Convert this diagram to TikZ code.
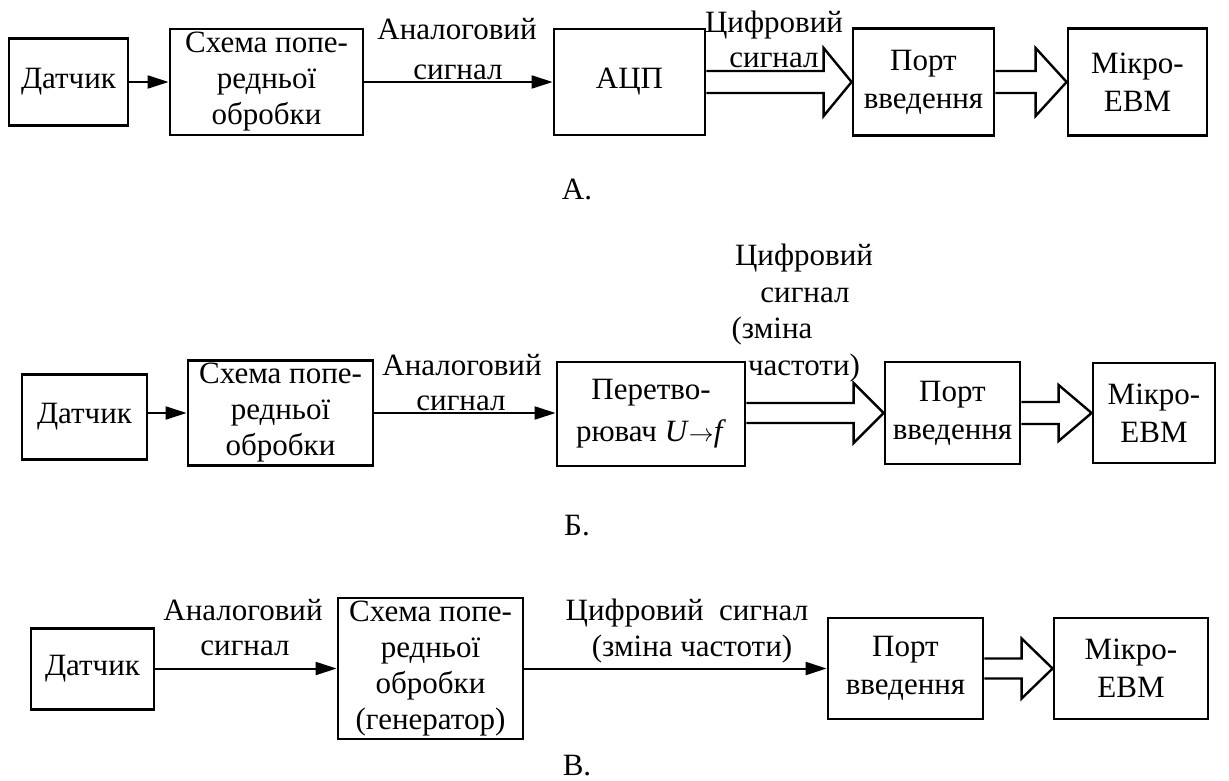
\documentclass[tikz,border=0pt]{standalone}
\usepackage{fontspec}
\setmainfont{Liberation Serif}
\usetikzlibrary{arrows.meta,calc}

% hollow (wide) arrow from the east side of #1 to the west side of #2
% #3 = half width of the shaft, #4 = half width of the head, #5 = head length
\newcommand\fatarrow[5]{%
  \path (#2.west) coordinate (tip-#2);
  \draw[fat] ($(#1.east|-tip-#2)+(0,-#3)$) -- ($(tip-#2)+(-#5,-#3)$)
    -- ($(tip-#2)+(-#5,-#4)$) -- (tip-#2) -- ($(tip-#2)+(-#5,#4)$)
    -- ($(tip-#2)+(-#5,#3)$) -- ($(#1.east|-tip-#2)+(0,#3)$);
}

\begin{document}
\begin{tikzpicture}[x=1pt,y=-1pt,
  every node/.style={font=\fontsize{31}{36}\selectfont},
  block/.style={draw, line width=2.8pt, align=center, inner sep=0pt},
  lbl/.style={inner sep=0pt, anchor=base},
  sig/.style={line width=2pt, -{Triangle[length=21pt,width=13pt]}},
  fat/.style={line width=2.4pt, line join=miter}
]
\useasboundingbox (0,0) rectangle (1229,781);

% ---------- А. ----------
\node[block, minimum width=119pt, minimum height=87pt] (a1) at (68.5,82) {Датчик};
\node[block, minimum width=193pt, minimum height=106pt] (b1) at (266.5,82) {Схема попе-\\редньої\\обробки};
\node[block, minimum width=151pt, minimum height=106pt] (c1) at (629.5,82) {АЦП};
\node[block, minimum width=141pt, minimum height=107pt] (d1) at (923.5,82) {Порт\\[2pt]введення};
\node[block, minimum width=139pt, minimum height=107pt] (e1) at (1137.5,82) {Мікро-\\[2pt]ЕВМ};

\draw[sig] (a1.east) -- (b1.west);
\draw[sig] (b1.east) -- (c1.west);
\fatarrow{c1}{d1}{11}{34}{28}
\fatarrow{d1}{e1}{11}{34}{31}

\node[lbl] (la1) at (457,40) {Аналоговий};
\node[lbl] (la2) at (458,80) {сигнал};
\node[lbl] (la3) at (774,33) {Цифровий};
\node[lbl] (la4) at (774,68) {сигнал};
\node[lbl] (capA) at (577,200) {А.};

% ---------- Б. ----------
\node[block, minimum width=125pt, minimum height=85pt] (a2) at (84.5,417) {Датчик};
\node[block, minimum width=185pt, minimum height=105pt] (b2) at (280.5,413) {Схема попе-\\редньої\\обробки};
\node[block, minimum width=188pt, minimum height=104pt] (c2) at (651,414) {Перетво-\\[6pt]рювач \textit{U}$\rightarrow$\textit{f}};
\node[block, minimum width=135pt, minimum height=102pt] (d2) at (952.5,413) {Порт\\[2pt]введення};
\node[block, minimum width=122pt, minimum height=100pt] (e2) at (1154,413) {Мікро-\\[2pt]ЕВМ};

\draw[sig] (a2.east|-b2.west) -- (b2.west);
\draw[sig] (b2.east) -- (c2.west|-b2.east);
\fatarrow{c2}{d2}{10}{30}{30}
\fatarrow{d2}{e2}{11}{28}{33}

\node[lbl] (lb1) at (462,375) {Аналоговий};
\node[lbl] (lb2) at (461,410) {сигнал};
\node[lbl] (lb3) at (804,265) {Цифровий};
\node[lbl] (lb4) at (805,302) {сигнал};
\node[lbl] (lb5) at (772,338) {(зміна};
\node[lbl] (lb6) at (804,375) {частоти)};
\node[lbl] (capB) at (577,535) {Б.};

% ---------- В. ----------
\node[block, minimum width=123pt, minimum height=81pt] (a3) at (92.5,669) {Датчик};
\node[block, minimum width=185pt, minimum height=141pt] (b3) at (430.5,668.5) {Схема попе-\\редньої\\обробки\\(генератор)};
\node[block, minimum width=155pt, minimum height=101pt] (d3) at (905.5,668.5) {Порт\\[2pt]введення};
\node[block, minimum width=154pt, minimum height=101pt] (e3) at (1131,668.5) {Мікро-\\[2pt]ЕВМ};

\draw[sig] (a3.east|-b3.west) -- (b3.west);
\draw[sig] (b3.east) -- (d3.west);
\fatarrow{d3}{e3}{10}{30}{31}

\node[lbl] (lc1) at (243,620) {Аналоговий};
\node[lbl] (lc2) at (245,655) {сигнал};
\node[lbl] (lc3) at (687,620) {Цифровий~ сигнал};
\node[lbl] (lc4) at (692,656) {(зміна частоти)};
\node[lbl] (capC) at (577,775) {В.};
\end{tikzpicture}
\end{document}
